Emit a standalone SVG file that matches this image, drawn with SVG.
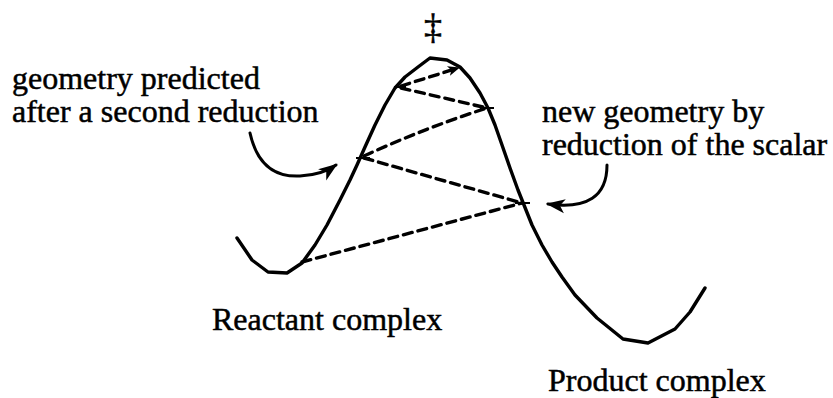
<svg xmlns="http://www.w3.org/2000/svg" width="833" height="398" viewBox="0 0 833 398">
  <style>
    .lbl { font-family: "Liberation Serif", "Times New Roman", serif; font-size: 32px; fill: #000; stroke: #000; stroke-width: 0.5; }
    .curve { fill: none; stroke: #000; stroke-width: 3.4; stroke-linejoin: round; stroke-linecap: round; }
    .dash { fill: none; stroke: #000; stroke-width: 3.4; stroke-dasharray: 9 6; stroke-linecap: round; }
    .tick { stroke: #000; stroke-width: 2; }
    .arr { fill: none; stroke: #000; stroke-width: 3; stroke-linecap: round; }
  </style>
  <defs>
    <marker id="bigHead" markerUnits="userSpaceOnUse" markerWidth="24" markerHeight="20" refX="0" refY="0" viewBox="-20 -10 24 20" orient="auto">
      <path d="M2,0 L-17,-7 L-12,0 L-17,7 Z" fill="#000"/>
    </marker>
    <marker id="smallHead" markerUnits="userSpaceOnUse" markerWidth="16" markerHeight="14" refX="0" refY="0" viewBox="-12 -7 16 14" orient="auto">
      <path d="M2,0 L-10,-5 L-7,0 L-10,5 Z" fill="#000"/>
    </marker>
  </defs>

  <g id="energy-curve">
    <polyline class="curve" points="237,238 252,260 268,272 287,273 302,263 315,245 327,225 340,200 350,180 357,165 365,147 375,125 385,105 395,88 405,77 418,67 430,58 447,60 460,67 470,78 480,93 488,108 495,125 502,145 510,168 518,190 524,205 532,225 542,245 552,262 562,277 575,295 597,318 623,339 648,343 675,329 690,312 705,288"/>
  </g>

  <g id="ts-symbol">
    <text class="lbl" x="433" y="39" text-anchor="middle" style="font-size:36px">‡</text>
  </g>

  <g id="label-second">
    <text class="lbl" x="12" y="89">geometry predicted</text>
    <text class="lbl" x="12" y="122">after a second reduction</text>
  </g>
  <g id="label-new">
    <text class="lbl" x="542" y="122">new geometry by</text>
    <text class="lbl" x="542" y="155">reduction of the scalar</text>
  </g>
  <g id="label-reactant">
    <text class="lbl" x="212" y="330">Reactant complex</text>
  </g>
  <g id="label-product">
    <text class="lbl" x="548" y="391">Product complex</text>
  </g>

  <g id="connectors">
    <path class="dash" d="M302,262 L522,203"/>
    <path class="dash" d="M364,158 L522,203"/>
    <path class="dash" d="M364,156 Q425,128 487,108"/>
    <path class="dash" d="M401,88 L487,108"/>
    <path class="dash" d="M401,86 L458,68" marker-end="url(#smallHead)"/>
    <line class="tick" x1="356" y1="158" x2="370" y2="158"/>
    <line class="tick" x1="515" y1="203" x2="530" y2="203"/>
    <line class="tick" x1="480" y1="108" x2="494" y2="108"/>
    <line class="tick" x1="394" y1="87" x2="406" y2="87"/>
    <path class="arr" d="M250,133 Q260,178 300,176 Q322,175 336,165" marker-end="url(#bigHead)"/>
    <path class="arr" d="M607,165 Q607,212 548,204" marker-end="url(#bigHead)"/>
  </g>
</svg>
